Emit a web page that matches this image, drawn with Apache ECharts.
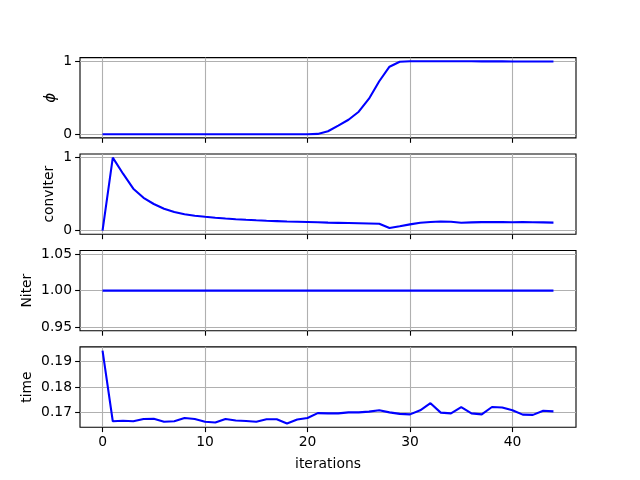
<!DOCTYPE html>
<html><head><meta charset="utf-8">
<script src="https://cdn.jsdelivr.net/npm/echarts@6/dist/echarts.min.js"></script>
<style>html,body{margin:0;padding:0;background:#fff}#c{width:640px;height:480px}</style>
</head><body><div id="c"></div>
<script>
const iterations = [0,1,2,3,4,5,6,7,8,9,10,11,12,13,14,15,16,17,18,19,20,21,22,23,24,25,26,27,28,29,30,31,32,33,34,35,36,37,38,39,40,41,42,43,44];
const phi = [0,0,0,0,0,0,0,0,0,0,0,0,0,0,0,0,0,0,0,0,0,0.005,0.041,0.12,0.2,0.31,0.49,0.73,0.93,0.998,1.005,1.005,1.005,1.005,1.004,1.004,1.004,1.003,1.003,1.003,1.002,1.002,1.002,1.001,1.001];
const convIter = [0,1.0,0.78,0.575,0.45,0.365,0.30,0.255,0.225,0.205,0.19,0.176,0.166,0.157,0.149,0.142,0.136,0.131,0.126,0.122,0.118,0.114,0.11,0.107,0.104,0.101,0.098,0.095,0.036,0.059,0.086,0.109,0.118,0.125,0.122,0.108,0.113,0.117,0.118,0.117,0.116,0.117,0.115,0.113,0.11];
const nIter = [1,1,1,1,1,1,1,1,1,1,1,1,1,1,1,1,1,1,1,1,1,1,1,1,1,1,1,1,1,1,1,1,1,1,1,1,1,1,1,1,1,1,1,1,1];
const time = [0.1943,0.1665,0.1667,0.1665,0.1674,0.1675,0.1663,0.1665,0.1678,0.1674,0.1663,0.1660,0.1674,0.1668,0.1666,0.1663,0.1673,0.1673,0.1656,0.1672,0.1678,0.1697,0.1696,0.1696,0.1700,0.1700,0.1703,0.1708,0.1700,0.1694,0.1692,0.1708,0.1736,0.1699,0.1696,0.1721,0.1696,0.1692,0.1721,0.1719,0.1708,0.1691,0.1690,0.1706,0.1704];
const xTicks = [0,10,20,30,40];
const phiTicks = [0,1];
const convTicks = [0,1];
const nIterTicks = [0.95,1.00,1.05];
const timeTicks = [0.17,0.18,0.19];
const yNames = ['ϕ','convIter','Niter','time'];

function lim(arr){const mn=Math.min(...arr),mx=Math.max(...arr);const m=(mx-mn)*0.05;return [mn-m,mx+m];}
const FONT='DejaVu Sans', FS=13.89;
const tops=[57.6,154.0,250.5,346.9], H=80.3;
const series=[phi,convIter,nIter,time];
const ticks=[phiTicks,convTicks,nIterTicks,timeTicks];
const fmts=[v=>String(Math.round(v)),v=>String(Math.round(v)),v=>v.toFixed(2),v=>v.toFixed(2)];
const ylims=[lim(phi),lim(convIter),[0.945,1.055],lim(time)];
const nameGaps=[21,24,46,46];
const xl=[-2.2,46.2];

const grid=[],xAxis=[],yAxis=[],ser=[];
for(let i=0;i<4;i++){
  grid.push({left:80,right:64,top:tops[i],height:H,show:true,borderColor:'#000',borderWidth:1.1,backgroundColor:'transparent'});
  xAxis.push({type:'value',gridIndex:i,min:xl[0],max:xl[1],position:'bottom',
    axisLine:{show:false,onZero:false},
    axisTick:{show:true,inside:false,length:4.9,lineStyle:{color:'#000',width:1.1},customValues:xTicks},
    axisLabel:{show:i===3,margin:8,color:'#000',fontFamily:FONT,fontSize:FS,customValues:xTicks,formatter:v=>String(v)},
    splitLine:{show:true,lineStyle:{color:'#b0b0b0',width:1.1}},
    name:i===3?'iterations':'',nameLocation:'middle',nameGap:30,nameMoveOverlap:false,
    nameTextStyle:{color:'#000',fontFamily:FONT,fontSize:FS}});
  const f=fmts[i];
  yAxis.push({type:'value',gridIndex:i,min:ylims[i][0],max:ylims[i][1],position:'left',
    axisLine:{show:false,onZero:false},
    axisTick:{show:true,inside:false,length:4.9,lineStyle:{color:'#000',width:1.1},customValues:ticks[i]},
    axisLabel:{show:true,margin:8,color:'#000',fontFamily:FONT,fontSize:FS,customValues:ticks[i],formatter:v=>f(v)},
    splitLine:{show:true,lineStyle:{color:'#b0b0b0',width:1.1}},
    name:yNames[i],nameLocation:'middle',nameGap:nameGaps[i],nameMoveOverlap:false,
    nameTextStyle:{color:'#000',fontFamily:FONT,fontSize:i===0?15:FS,fontStyle:i===0?'italic':'normal'}});
  ser.push({type:'line',xAxisIndex:i,yAxisIndex:i,showSymbol:false,symbol:'none',
    lineStyle:{color:'#0000ff',width:2.08},data:iterations.map((x,k)=>[x,series[i][k]]),animation:false});
}
const chart=echarts.init(document.getElementById('c'),null,{renderer:'canvas'});
chart.setOption({animation:false,backgroundColor:'#fff',grid,xAxis,yAxis,series:ser});
</script></body></html>
